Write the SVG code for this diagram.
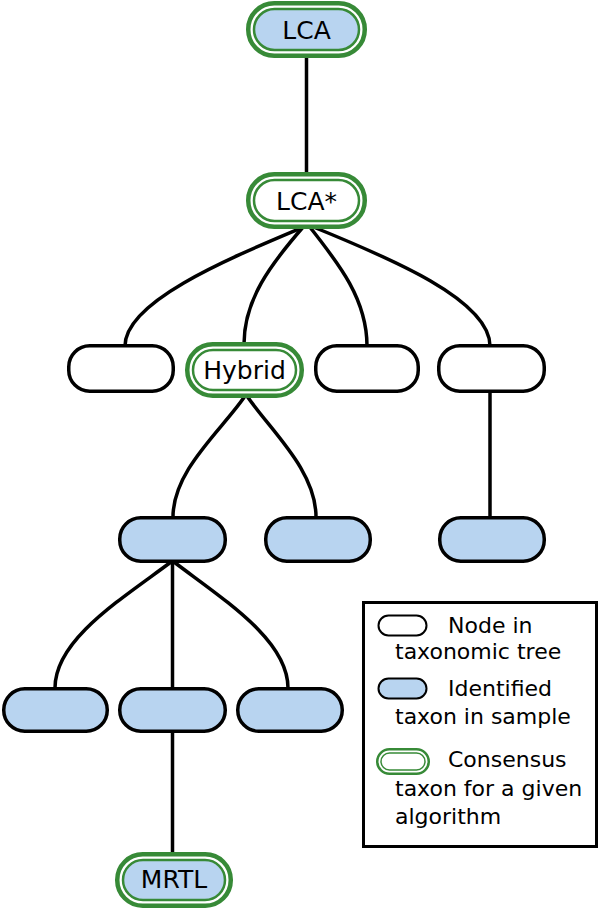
<svg xmlns="http://www.w3.org/2000/svg" width="599" height="909" viewBox="0 0 599 909">
<style>
text { font-family: "DejaVu Sans", "Liberation Sans", sans-serif; fill: #000; }
.lbl { font-size: 25px; text-anchor: middle; }
.leg { font-size: 22px; }
.plain { fill: #ffffff; stroke: #000; stroke-width: 3.5; }
.ident { fill: #b8d4f0; stroke: #000; stroke-width: 3.5; }
.ring { fill: #ffffff; stroke: #378a37; stroke-width: 4.5; }
.cin { stroke: #378a37; stroke-width: 2.5; }
.edge { fill: none; stroke: #000; stroke-width: 3.5; }
</style>
<rect x="0" y="0" width="599" height="909" fill="#ffffff"/>
<g id="connectors">
  <path class="edge" d="M306.5,54 L306.5,174"/>
  <path class="edge" d="M306,226 C235,256 125,300 125,346"/>
  <path class="edge" d="M304,226 C270,265 244,300 244,344"/>
  <path class="edge" d="M309,226 C340,265 367,300 367,346"/>
  <path class="edge" d="M311,226 C390,258 490,300 490,346"/>
  <path class="edge" d="M245,396 C222,430 173,470 173,517"/>
  <path class="edge" d="M247,396 C270,430 316,470 316,517"/>
  <path class="edge" d="M490,392 L490,518"/>
  <path class="edge" d="M171,562 C120,600 55,640 55,688"/>
  <path class="edge" d="M172.5,562 L172.5,688"/>
  <path class="edge" d="M174,562 C224,600 288,640 288,688"/>
  <path class="edge" d="M172.5,732 L172.5,854"/>
</g>
<g id="node-lca">
  <rect class="ring" x="248.25" y="3.25" width="116.5" height="52.5" rx="26"/>
  <rect class="ident cin" x="254" y="9" width="105" height="41" rx="20.5"/>
  <text class="lbl" x="306.5" y="38.5">LCA</text>
</g>
<g id="node-lcastar">
  <rect class="ring" x="248.25" y="174.25" width="116.5" height="52.5" rx="26"/>
  <rect class="plain cin" x="254" y="180" width="105" height="41" rx="20.5"/>
  <text class="lbl" x="306.5" y="209.5">LCA*</text>
</g>
<g id="node-r3a">
  <rect class="plain" x="68.75" y="345.75" width="104.5" height="45.5" rx="21"/>
</g>
<g id="node-hybrid">
  <rect class="ring" x="187.25" y="344.25" width="114.5" height="51.5" rx="25.5"/>
  <rect class="plain cin" x="193" y="350" width="103" height="40" rx="20"/>
  <text class="lbl" x="244.5" y="378.5">Hybrid</text>
</g>
<g id="node-r3c">
  <rect class="plain" x="315.75" y="345.75" width="102.5" height="45.5" rx="21"/>
</g>
<g id="node-r3d">
  <rect class="plain" x="438.75" y="345.75" width="105.5" height="45.5" rx="21"/>
</g>
<g id="node-r4a">
  <rect class="ident" x="119.75" y="517.75" width="105.5" height="43.5" rx="21"/>
</g>
<g id="node-r4b">
  <rect class="ident" x="265.75" y="517.75" width="104.5" height="43.5" rx="21"/>
</g>
<g id="node-r4c">
  <rect class="ident" x="439.75" y="517.75" width="104.5" height="43.5" rx="21"/>
</g>
<g id="node-r5a">
  <rect class="ident" x="3.75" y="688.75" width="103.5" height="42.5" rx="21"/>
</g>
<g id="node-r5b">
  <rect class="ident" x="119.75" y="688.75" width="105.5" height="42.5" rx="21"/>
</g>
<g id="node-r5c">
  <rect class="ident" x="237.75" y="688.75" width="104.5" height="42.5" rx="21"/>
</g>
<g id="node-mrtl">
  <rect class="ring" x="117.25" y="854.25" width="113.5" height="51.5" rx="25.5"/>
  <rect class="ident cin" x="123" y="860" width="102" height="40" rx="20"/>
  <text class="lbl" x="174" y="888">MRTL</text>
</g>
<g id="legend">
  <rect x="363.5" y="602.5" width="233" height="244" fill="#ffffff" stroke="#000" stroke-width="3"/>
  <rect x="378.5" y="615.5" width="48" height="20" rx="10" fill="#ffffff" stroke="#000" stroke-width="2"/>
  <text class="leg" x="448" y="633">Node in</text>
  <text class="leg" x="395" y="659">taxonomic tree</text>
  <rect x="378.5" y="678.5" width="48" height="20" rx="10" fill="#b8d4f0" stroke="#000" stroke-width="2"/>
  <text class="leg" x="448" y="696">Identified</text>
  <text class="leg" x="395" y="724">taxon in sample</text>
  <rect x="377.25" y="749.25" width="51.5" height="24.5" rx="12.25" fill="#ffffff" stroke="#378a37" stroke-width="2.5"/>
  <rect x="381" y="753" width="44" height="17" rx="8.5" fill="#ffffff" stroke="#378a37" stroke-width="1.5"/>
  <text class="leg" x="448" y="767">Consensus</text>
  <text class="leg" x="395" y="796">taxon for a given</text>
  <text class="leg" x="395" y="824">algorithm</text>
</g>
</svg>
